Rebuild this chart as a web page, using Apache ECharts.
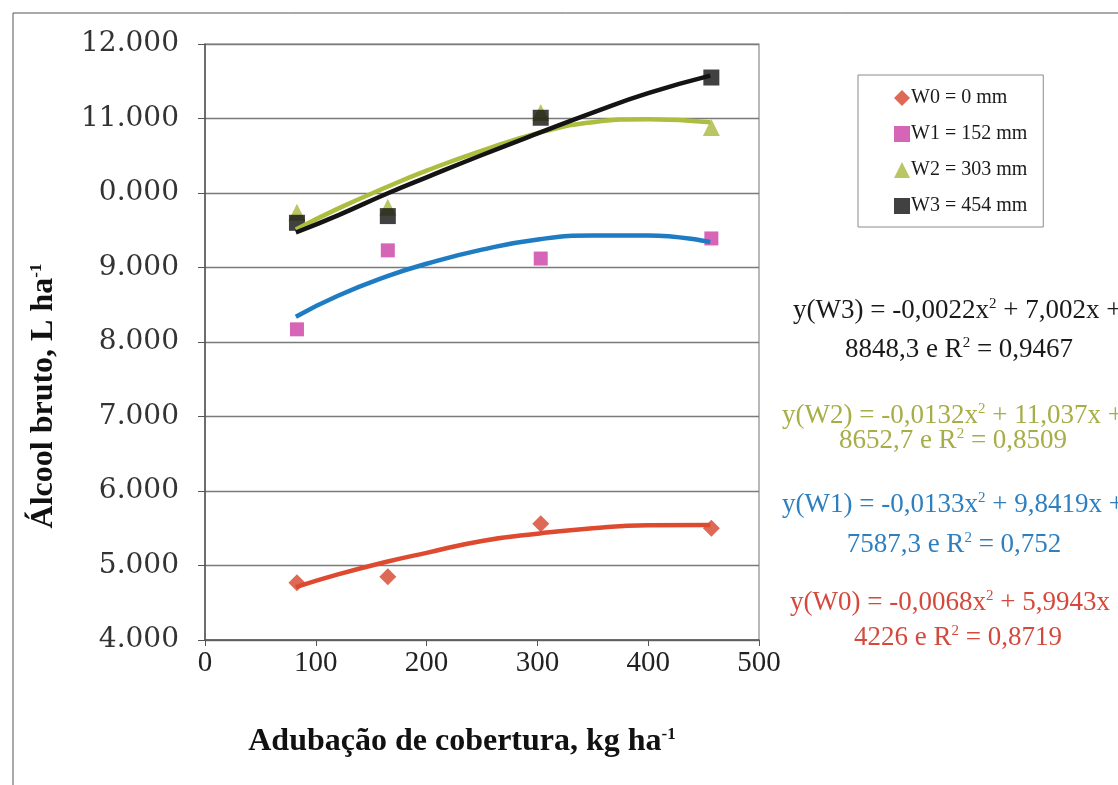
<!DOCTYPE html>
<html>
<head>
<meta charset="utf-8">
<title>Álcool bruto x Adubação de cobertura</title>
<script src="https://cdn.jsdelivr.net/npm/echarts@6/dist/echarts.min.js"></script>
<style>
  html, body { margin: 0; padding: 0; background: #fff; }
  #chart { width: 1118px; height: 785px; }
</style>
</head>
<body>
<div id="chart"></div>
<script>
// doses de adubação (kg ha-1) e valores observados
var doses = [83, 165, 303, 457]
var w0 = [4770, 4850, 5560, 5500]
var w1 = [8170, 9230, 9120, 9390]
var w2 = [9740, 9810, 11080, 10880]
var w3 = [9600, 9690, 11010, 11550]

// curvas de tendência
var trendX = [82, 120, 164, 200, 250, 302, 350, 400, 456]
var trendW0 = [4710, 4880, 5050, 5170, 5330, 5430, 5500, 5540, 5545]
var trendW1 = [8340, 8620, 8880, 9050, 9240, 9380, 9430, 9430, 9340]
var trendW2 = [9510, 9790, 10080, 10300, 10570, 10810, 10950, 10990, 10950]
var trendW3 = [9470, 9700, 9990, 10210, 10510, 10810, 11080, 11340, 11575]

var seriesNames = ['W0 = 0 mm', 'W1 = 152 mm', 'W2 = 303 mm', 'W3 = 454 mm']
var yTickLabels = ['4.000', '5.000', '6.000', '7.000', '8.000', '9.000', '0.000', '11.000', '12.000']

// equações (linha 1, linha 2) — rich text
var eqW3 = ['y(W3) = -0,0022x{s|2} + 7,002x +', '8848,3 e R{s|2} = 0,9467']
var eqW2 = ['y(W2) = -0,0132x{s|2} + 11,037x +', '8652,7 e R{s|2} = 0,8509']
var eqW1 = ['y(W1) = -0,0133x{s|2} + 9,8419x +', '7587,3 e R{s|2} = 0,752']
var eqW0 = ['y(W0) = -0,0068x{s|2} + 5,9943x +', '4226 e R{s|2} = 0,8719']

function pairs(xs, ys) {
  return xs.map(function (x, i) { return [x, ys[i]] })
}

var serif = '"Liberation Serif", "Times New Roman", serif'
var supStyle = { fontSize: 15, fontFamily: serif, verticalAlign: 'top', lineHeight: 14, padding: [0, 0, 10, 0] }

function eqText(lines, color, x1, y1, cx2, y2) {
  var rich = { s: Object.assign({}, supStyle, { fill: color }) }
  return [{
    type: 'text', left: x1, top: y1 - 16,
    style: { text: lines[0], fill: color, font: '27px ' + serif, rich: rich }
  }, {
    type: 'text', x: cx2, y: y2 - 16,
    style: { text: lines[1], fill: color, font: '27px ' + serif, align: 'center', rich: rich }
  }]
}

var colors = {
  w0: '#d6432c', w0line: '#de4a30',
  w1: '#cc3fa6', w1line: '#1e7cc3',
  w2: '#a9b83c', w2line: '#adbd3e',
  w3: '#111111', w3line: '#141414'
}

var chart = echarts.init(document.getElementById('chart'))

function trend(data, color) {
  return {
    type: 'line', data: data, smooth: true, showSymbol: false, symbol: 'none',
    lineStyle: { color: color, width: 4.5 }, z: 3, silent: true, animation: false
  }
}

var nameSup = { fontFamily: serif, fontSize: 17, fontWeight: 'bold', color: '#111', verticalAlign: 'top', padding: [0, 0, 14, 0] }

chart.setOption({
  animation: false,
  backgroundColor: '#fff',
  grid: {
    left: 205, right: 359, top: 44, bottom: 145,
    show: true, borderColor: '#8a8a8a', borderWidth: 1.2
  },
  legend: {
    left: 858, top: 75, orient: 'vertical',
    padding: [13, 16, 11, 36], itemGap: 16,
    itemWidth: 16, itemHeight: 16,
    borderColor: '#8a8a8a', borderWidth: 1, backgroundColor: '#fff',
    textStyle: { fontFamily: serif, fontSize: 20, color: '#1a1a1a', padding: [0, 0, 0, -4] },
    data: [
      { name: seriesNames[0], icon: 'diamond' },
      { name: seriesNames[1], icon: 'rect' },
      { name: seriesNames[2], icon: 'triangle' },
      { name: seriesNames[3], icon: 'rect' }
    ]
  },
  xAxis: {
    type: 'value', min: 0, max: 500, interval: 100,
    name: 'Adubação de cobertura, kg ha{s|-1}',
    nameLocation: 'middle', nameGap: 86,
    nameTextStyle: {
      fontFamily: serif, fontSize: 32, fontWeight: 'bold', color: '#111',
      padding: [0, 40, 0, 0],
      rich: { s: nameSup }
    },
    axisLine: { show: true, lineStyle: { color: '#555', width: 1.5 } },
    axisTick: { show: true, inside: false, length: 6, lineStyle: { color: '#555' } },
    axisLabel: { fontFamily: serif, fontSize: 29, color: '#222', margin: 9 },
    splitLine: { show: false }
  },
  yAxis: {
    type: 'value', min: 4000, max: 12000, interval: 1000,
    name: 'Álcool bruto, L ha{s|-1}',
    nameLocation: 'middle', nameGap: 145, nameRotate: 90,
    nameTextStyle: {
      fontFamily: serif, fontSize: 32, fontWeight: 'bold', color: '#111',
      padding: [0, 108, 0, 0],
      rich: { s: nameSup }
    },
    axisLine: { show: true, lineStyle: { color: '#555', width: 1.5 } },
    axisTick: { show: true, inside: false, length: 7, lineStyle: { color: '#555' } },
    axisLabel: {
      fontFamily: '"DejaVu Serif", serif', fontSize: 28, color: '#333', margin: 26,
      formatter: function (v) { return yTickLabels[Math.round((v - 4000) / 1000)] }
    },
    splitLine: { show: true, lineStyle: { color: '#7a7a7a', width: 1.3 } }
  },
  series: [
    { name: seriesNames[0], type: 'scatter', symbol: 'diamond', symbolSize: 17, data: pairs(doses, w0), itemStyle: { color: colors.w0 }, z: 2 },
    { name: seriesNames[1], type: 'scatter', symbol: 'rect', symbolSize: 14, data: pairs(doses, w1), itemStyle: { color: colors.w1 }, z: 2 },
    { name: seriesNames[2], type: 'scatter', symbol: 'triangle', symbolSize: 17, data: pairs(doses, w2), itemStyle: { color: colors.w2 }, z: 2 },
    { name: seriesNames[3], type: 'scatter', symbol: 'rect', symbolSize: 16, data: pairs(doses, w3), itemStyle: { color: colors.w3 }, z: 2 },
    trend(pairs(trendX, trendW0), colors.w0line),
    trend(pairs(trendX, trendW1), colors.w1line),
    trend(pairs(trendX, trendW2), colors.w2line),
    trend(pairs(trendX, trendW3), colors.w3line)
  ],
  graphic: [
    {
      type: 'polyline', silent: true,
      shape: { points: [[13, 785], [13, 13], [1118, 13]] },
      style: { stroke: '#555', lineWidth: 1, fill: null }
    }
  ].concat(
    eqText(eqW3, '#1a1a1a', 793, 313, 959, 352),
    eqText(eqW2, '#a7ad47', 782, 418, 953, 443),
    eqText(eqW1, '#2e7fc0', 782, 507, 954, 547),
    eqText(eqW0, '#d4493c', 790, 605, 958, 640)
  )
})
</script>
</body>
</html>
